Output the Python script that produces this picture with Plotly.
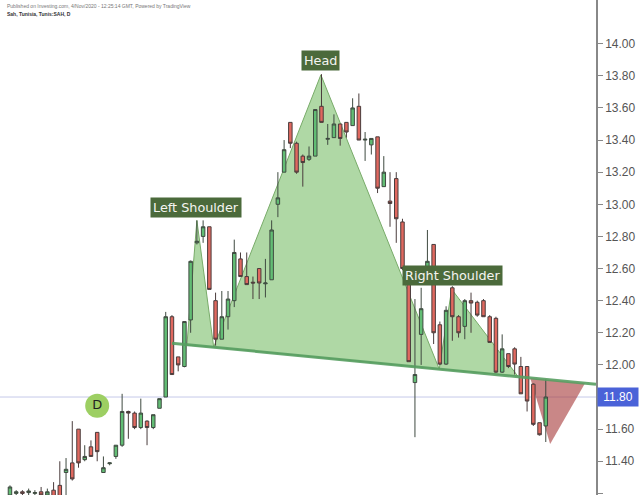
import plotly.graph_objects as go

# ---------------- data ----------------
bar_index = list(range(87))
opens = [11.19, 11.20, 11.21, 11.205, 11.20, 11.21, 11.19, 11.22, 11.25, 11.33,
         11.39, 11.60, 11.41, 11.49, 11.58, 11.33, 11.385, 11.43, 11.50, 11.71,
         11.70, 11.61, 11.65, 11.61, 11.73, 11.80, 12.30, 12.05, 11.99, 12.28,
         12.76, 12.80, 12.86, 12.40, 12.16, 12.30, 12.40, 12.66, 12.55, 12.515,
         12.60, 12.505, 12.53, 13.00, 13.20, 13.51, 13.38, 13.30, 13.28, 13.30,
         13.61, 13.405, 13.415, 13.50, 13.51, 13.49, 13.61, 13.40, 13.37, 13.42,
         13.11, 13.02, 13.16, 12.89, 12.58, 11.89, 12.19, 12.55, 12.75, 12.25,
         12.005, 12.48, 12.30, 12.24, 12.40, 12.39, 12.40, 12.30, 12.29, 11.955,
         12.07, 12.10, 11.99, 11.99, 11.88, 11.64, 11.62]
highs = [11.25, 11.22, 11.22, 11.23, 11.22, 11.24, 11.23, 11.27, 11.40, 11.42,
         11.65, 11.60, 11.50, 11.53, 11.58, 11.43, 11.393, 11.50, 11.82, 11.715,
         11.71, 11.79, 11.655, 11.69, 11.79, 12.33, 12.31, 12.05, 12.27, 12.65,
         12.90, 12.90, 12.86, 12.45, 12.46, 12.46, 12.78, 12.70, 12.70, 12.55,
         12.60, 12.66, 12.90, 13.20, 13.40, 13.51, 13.39, 13.31, 13.36, 13.59,
         13.81, 13.50, 13.56, 13.50, 13.51, 13.66, 13.69, 13.45, 13.41, 13.42,
         13.30, 13.20, 13.20, 12.91, 12.58, 12.41, 12.48, 12.84, 12.75, 12.27,
         12.365, 12.49, 12.31, 12.41, 12.45, 12.40, 12.41, 12.31, 12.30, 12.19,
         12.07, 12.11, 12.05, 11.99, 11.885, 11.64, 11.91]
lows = [11.18, 11.19, 11.19, 11.19, 11.18, 11.18, 11.18, 11.17, 11.17, 11.18,
        11.28, 11.36, 11.40, 11.43, 11.40, 11.33, 11.375, 11.415, 11.49, 11.54,
        11.60, 11.60, 11.50, 11.60, 11.73, 11.80, 11.94, 11.96, 11.985, 12.20,
        12.75, 12.76, 12.47, 12.12, 12.16, 12.22, 12.36, 12.55, 12.50, 12.41,
        12.41, 12.42, 12.53, 12.92, 13.20, 13.35, 13.19, 13.11, 13.27, 13.30,
        13.51, 13.37, 13.415, 13.365, 13.415, 13.49, 13.40, 13.27, 13.31, 13.07,
        13.11, 12.86, 12.76, 12.59, 12.02, 11.55, 12.00, 12.50, 12.13, 12.00,
        12.00, 12.15, 12.17, 12.16, 12.20, 12.30, 12.30, 12.14, 11.95, 11.95,
        11.98, 11.94, 11.82, 11.71, 11.62, 11.56, 11.52]
closes = [11.24, 11.21, 11.20, 11.215, 11.205, 11.19, 11.21, 11.18, 11.18, 11.35,
          11.29, 11.39, 11.43, 11.43, 11.46, 11.36, 11.39, 11.50, 11.71, 11.70,
          11.61, 11.70, 11.61, 11.69, 11.79, 12.30, 11.94, 12.00, 12.27, 12.645,
          12.77, 12.86, 12.47, 12.16, 12.30, 12.41, 12.70, 12.55, 12.50, 12.51,
          12.51, 12.51, 12.84, 13.04, 13.34, 13.38, 13.20, 13.26, 13.30, 13.59,
          13.51, 13.41, 13.50, 13.41, 13.45, 13.60, 13.40, 13.405, 13.41, 13.10,
          13.20, 13.005, 12.91, 12.60, 12.02, 11.94, 12.35, 12.645, 12.20, 12.005,
          12.34, 12.30, 12.20, 12.40, 12.385, 12.31, 12.30, 12.14, 11.955, 12.10,
          11.99, 12.005, 11.82, 11.775, 11.63, 11.565, 11.80]

# head & shoulders pattern points: start, L-shoulder, neck1, head, neck2, R-shoulder, end
pattern_x = [28.4, 30.0, 32.7, 49.9, 68.9, 70.9, 81.5]
pattern_y = [12.123, 12.899, 12.11, 13.806, 11.974, 12.471, 11.93]
label_text = ["Left Shoulder", "Head", "Right Shoulder"]
label_x = [29.9, 49.9, 71.1]
label_y = [12.98, 13.893, 12.558]
neck_x = [26.0, 94.06]
target_x = [83.5, 92.3, 86.7]
target_y = [11.919, 11.886, 11.508]
marker_x = [14.0]
marker_y = [11.746]
marker_text = ["D"]
last_price = 11.80
ytick_vals = [11.20, 11.40, 11.60, 11.80, 12.00, 12.20, 12.40, 12.60, 12.80,
              13.00, 13.20, 13.40, 13.60, 13.80, 14.00]
header_1 = "Published on Investing.com, 4/Nov/2020 - 12:25:14 GMT, Powered by TradingView"
header_2 = "Sah, Tunisia, Tunis:SAH, D"

# ---------------- figure ----------------
fig = go.Figure()

fig.add_trace(go.Candlestick(
    x=bar_index, open=opens, high=highs, low=lows, close=closes,
    increasing=dict(line=dict(color="#3f4a40", width=1), fillcolor="#62bd74"),
    decreasing=dict(line=dict(color="#4a3c3c", width=1), fillcolor="#e0685f"),
    whiskerwidth=0, showlegend=False, hoverinfo="skip"))

fig.add_trace(go.Scatter(
    x=marker_x, y=marker_y, mode="markers+text", text=marker_text,
    textposition="middle center",
    textfont=dict(family="DejaVu Sans", size=13, color="#222"),
    marker=dict(size=24, color="#9dcf63", line=dict(width=0)),
    showlegend=False, hoverinfo="skip"))

shapes = []


def tri_path(xs, ys):
    return "M {},{} L {},{} L {},{} Z".format(xs[0], ys[0], xs[1], ys[1], xs[2], ys[2])


for k in (0, 2, 4):
    shapes.append(dict(
        type="path", xref="x", yref="y", layer="below",
        path=tri_path(pattern_x[k:k + 3], pattern_y[k:k + 3]),
        fillcolor="rgba(122,190,105,0.6)",
        line=dict(color="#78ab69", width=1)))

shapes.append(dict(
    type="path", xref="x", yref="y", layer="below",
    path=tri_path(target_x, target_y),
    fillcolor="rgba(165,55,55,0.6)", line=dict(width=0)))

shapes.append(dict(
    type="line", xref="paper", yref="y", x0=0, x1=1, y0=last_price, y1=last_price,
    layer="below", line=dict(color="#c6cae9", width=1)))

# neckline through the two neck points, extended
slope = (pattern_y[4] - pattern_y[2]) / (pattern_x[4] - pattern_x[2])
neck_y = [pattern_y[2] + slope * (nx - pattern_x[2]) for nx in neck_x]
shapes.append(dict(
    type="line", xref="x", yref="y", x0=neck_x[0], x1=neck_x[1],
    y0=neck_y[0], y1=neck_y[1], layer="above",
    line=dict(color="rgba(88,158,98,0.9)", width=3)))

annotations = []
for t, lx, ly in zip(label_text, label_x, label_y):
    annotations.append(dict(
        x=lx, y=ly, xref="x", yref="y", text=t, showarrow=False,
        font=dict(family="DejaVu Sans", size=12.8, color="#f4f4f0"),
        bgcolor="#4b6a3b", borderpad=2))

annotations.append(dict(
    x=1, y=last_price, xref="paper", yref="y", xanchor="left", yanchor="middle",
    text="{:.2f}".format(last_price), showarrow=False, xshift=1,
    width=36, height=14, borderpad=2, align="center",
    font=dict(family="Liberation Sans, Arial", size=12, color="#ffffff"),
    bgcolor="#4a62d8"))

annotations.append(dict(
    x=0, y=1, xref="paper", yref="paper", xanchor="left", yanchor="middle",
    xshift=5, yshift=-6, text=header_1, showarrow=False,
    font=dict(family="Liberation Sans, Arial", size=5, color="#777")))
annotations.append(dict(
    x=0, y=1, xref="paper", yref="paper", xanchor="left", yanchor="middle",
    xshift=5, yshift=-14, text="<b>" + header_2 + "</b>", showarrow=False,
    font=dict(family="Liberation Sans, Arial", size=5, color="#333")))

# the 11.80 tick label is covered by the price tag, so leave its text empty
tick_text = ["" if abs(v - last_price) < 1e-9 else "{:.2f}".format(v) for v in ytick_vals]

fig.update_layout(
    width=640, height=495,
    margin=dict(l=0, r=44, t=0, b=0),
    paper_bgcolor="white", plot_bgcolor="white",
    shapes=shapes, annotations=annotations,
    boxgap=0.2,
    xaxis=dict(range=[-1.6, 94.06], visible=False,
               rangeslider=dict(visible=False), showgrid=False),
    yaxis=dict(side="right", range=[11.19, 14.272],
               tickvals=ytick_vals, ticktext=tick_text,
               ticks="outside", ticklen=5, tickcolor="#888",
               showline=True, linecolor="#888", linewidth=1.5,
               showgrid=False, zeroline=False,
               tickfont=dict(family="Liberation Sans, Arial", size=12, color="#555")),
)

fig.write_html("out.html",
               config={"displayModeBar": False},
               post_script="document.body.style.margin='0px';"
                           "document.body.style.overflow='hidden';")
